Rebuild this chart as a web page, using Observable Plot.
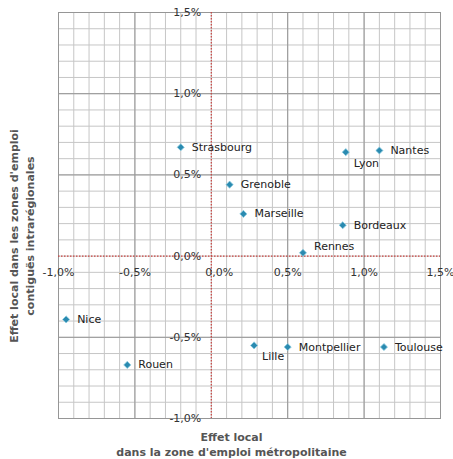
<!DOCTYPE html>
<html>
<head>
<meta charset="utf-8">
<script src="https://cdn.jsdelivr.net/npm/d3@7"></script>
<script src="https://cdn.jsdelivr.net/npm/@observablehq/plot@0.6"></script>
<style>
  html, body { margin: 0; padding: 0; background: #fff; }
  #chart svg { display: block; }
</style>
</head>
<body>
<div id="chart"></div>
<script>
// --- data ---
const cities  = ["Strasbourg", "Nantes", "Lyon", "Grenoble", "Marseille", "Bordeaux", "Rennes", "Nice", "Rouen", "Lille", "Montpellier", "Toulouse"];
const xValues = [-0.20, 1.10, 0.88, 0.12, 0.21, 0.86, 0.60, -0.95, -0.55, 0.28, 0.50, 1.13];
const yValues = [ 0.67, 0.65, 0.64, 0.44, 0.26, 0.19, 0.02, -0.39, -0.67, -0.55, -0.56, -0.56];
const tickValues = [-1, -0.5, 0, 0.5, 1, 1.5];
const tickLabels = ["-1,0%", "-0,5%", "0,0%", "0,5%", "1,0%", "1,5%"];
const xTitle = "Effet local\ndans la zone d'emploi métropolitaine";
const yTitleLines = ["Effet local dans les zones d'emploi", "contiguës intrarégionales"];

// label placement (not data)
const below = new Set(["Lyon", "Lille"]);
const above = new Set(["Rennes"]);

const points = cities.map((c, i) => ({city: c, x: xValues[i], y: yValues[i]}));
const ticks = tickValues.map((v, i) => ({v, label: tickLabels[i]}));
const minor = d3.range(-10, 16).map(i => i / 10);

const font = "DejaVu Sans, Verdana, sans-serif";

const chart = Plot.plot({
  width: 453,
  height: 459,
  marginLeft: 58,
  marginRight: 13,
  marginTop: 12,
  marginBottom: 41,
  style: {fontFamily: font, background: "#fff"},
  x: {domain: [-1, 1.5], axis: null},
  y: {domain: [-1, 1.5], axis: null},
  marks: [
    Plot.ruleX(minor, {stroke: "#c6c6c6", strokeWidth: 1}),
    Plot.ruleY(minor, {stroke: "#c6c6c6", strokeWidth: 1}),
    Plot.ruleX(tickValues.filter(v => v !== 0), {stroke: "#969696", strokeWidth: 1}),
    Plot.ruleY(tickValues.filter(v => v !== 0), {stroke: "#969696", strokeWidth: 1}),
    Plot.frame({stroke: "#969696"}),
    Plot.ruleX([0], {stroke: "#c8423f", strokeWidth: 1.2, strokeDasharray: "1.5,1.5"}),
    Plot.ruleY([0], {stroke: "#c8423f", strokeWidth: 1.2, strokeDasharray: "1.5,1.5"}),
    // y tick labels
    Plot.text(ticks, {x: 0, y: "v", text: "label", textAnchor: "end", dx: -10, fontSize: 11, fill: "#333"}),
    // x tick labels
    Plot.text(ticks.filter(d => d.v !== 0), {x: "v", y: 0, text: "label", dy: 16, fontSize: 11, fill: "#333"}),
    Plot.text(ticks.filter(d => d.v === 0), {x: "v", y: 0, text: "label", dy: 16, dx: 8, fontSize: 11, fill: "#333"}),
    // points
    Plot.dot(points, {x: "x", y: "y", symbol: "diamond2", r: 3.2, fill: "#2a8ab0", stroke: "#8ccbe0", strokeWidth: 0.8}),
    // labels
    Plot.text(points.filter(d => !below.has(d.city) && !above.has(d.city)), {x: "x", y: "y", text: "city", textAnchor: "start", dx: 11, fontSize: 11, fill: "#222"}),
    Plot.text(points.filter(d => below.has(d.city)), {x: "x", y: "y", text: "city", textAnchor: "start", dx: 8, dy: 11, fontSize: 11, fill: "#222"}),
    Plot.text(points.filter(d => above.has(d.city)), {x: "x", y: "y", text: "city", textAnchor: "start", dx: 11, dy: -6, fontSize: 11, fill: "#222"}),
    // x axis title
    Plot.text([xTitle], {frameAnchor: "bottom", text: d => d, dx: -18, dy: 25, lineAnchor: "middle", lineHeight: 1.4, fontSize: 11, fontWeight: "bold", fill: "#555"})
  ]
});

// y axis title (rotated), placed in the left margin
const svg = d3.select(chart);
const yt = svg.append("g")
  .attr("font-family", font)
  .attr("font-size", 11)
  .attr("font-weight", "bold")
  .attr("fill", "#555")
  .attr("text-anchor", "middle");
yTitleLines.forEach((line, i) => {
  yt.append("text")
    .attr("transform", `translate(${14 + i * 16},236) rotate(-90)`)
    .attr("dy", "0.35em")
    .text(line);
});

document.getElementById("chart").appendChild(chart);
</script>
</body>
</html>
